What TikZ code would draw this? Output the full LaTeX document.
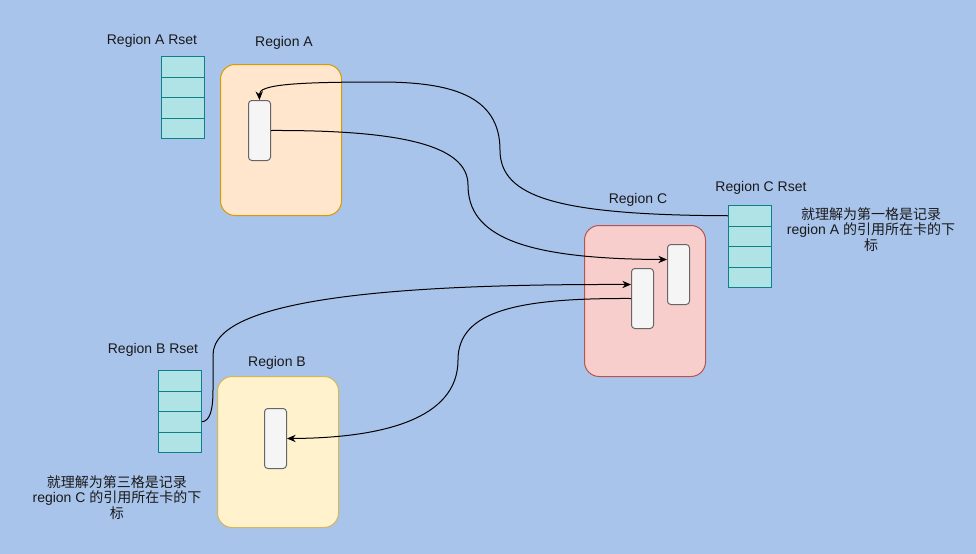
\documentclass[tikz,border=0pt]{standalone}
\usepackage{fontspec}
\setmainfont{Liberation Sans}
\newfontfamily\cjk{Noto Sans CJK SC}
\usetikzlibrary{arrows.meta}
\definecolor{bgc}{HTML}{A9C4EB}
\definecolor{rsetfill}{HTML}{B0E3E6}
\definecolor{rsetline}{HTML}{0E8088}
\definecolor{afill}{HTML}{FFE6CC}
\definecolor{aline}{HTML}{D79B00}
\definecolor{bfill}{HTML}{FFF2CC}
\definecolor{bline}{HTML}{D6B656}
\definecolor{cfill}{HTML}{F8CECC}
\definecolor{cline}{HTML}{B85450}
\definecolor{cardfill}{HTML}{F5F5F5}
\definecolor{cardline}{HTML}{666666}
\tikzset{
  cell/.style={draw=rsetline, fill=rsetfill, line width=0.75pt, minimum width=32.25pt, minimum height=15.375pt, inner sep=0pt, anchor=north west},
  regionbox/.style={line width=0.75pt, rounded corners=11pt, minimum width=90.75pt, minimum height=113.25pt, inner sep=0pt, anchor=north west},
  card/.style={draw=cardline, fill=cardfill, line width=0.75pt, rounded corners=2.5pt, minimum width=16.5pt, minimum height=45pt, inner sep=0pt, anchor=north west},
  lbl/.style={font=\fontsize{10.5}{12}\selectfont, inner sep=0pt, text=black!90},
  note/.style={font=\fontsize{10.5}{11.8}\selectfont, inner sep=0pt, align=center, text=black!90},
  conn/.style={draw=black, line width=0.75pt, -{Stealth[length=6.5pt,width=5.5pt]}},
}
\begin{document}
\begin{tikzpicture}[x=0.75pt,y=-0.75pt]
\fill[bgc] (0,0) rectangle (976,554);
\useasboundingbox (0,0) rectangle (976,554);

% Region A Rset
\node[cell] (aset1) at (161,56) {};
\node[cell] (aset2) at (161,76.5) {};
\node[cell] (aset3) at (161,97) {};
\node[cell] (aset4) at (161,117.5) {};
\node[lbl] (asetl) at (152,40.5) {Region A Rset};

% Region A
\node[regionbox, draw=aline, fill=afill] (ra) at (220,64) {};
\node[lbl] (ral) at (284,42.5) {Region A};
\node[card] (ina) at (248,100) {};

% Region C
\node[regionbox, draw=cline, fill=cfill] (rc) at (584,225) {};
\node[lbl] (rcl) at (638,199.5) {Region C};
\node[card] (cc1) at (667,244) {};
\node[card] (cc2) at (631,268) {};

% Region C Rset
\node[cell] (cset1) at (728,205) {};
\node[cell] (cset2) at (728,225.5) {};
\node[cell] (cset3) at (728,246) {};
\node[cell] (cset4) at (728,266.5) {};
\node[lbl] (csetl) at (761,187.5) {Region C Rset};
\node[note] (notea) at (871,229.5) {{\cjk 就理解为第一格是记录}\\region A {\cjk 的引用所在卡的下}\\{\cjk 标}};

% Region B Rset
\node[cell] (bset1) at (158,370) {};
\node[cell] (bset2) at (158,390.5) {};
\node[cell] (bset3) at (158,411) {};
\node[cell] (bset4) at (158,431.5) {};
\node[lbl] (bsetl) at (153,349.5) {Region B Rset};

% Region B
\node[regionbox, draw=bline, fill=bfill] (rb) at (217,376) {};
\node[lbl] (rbl) at (277,362.5) {Region B};
\node[card] (inb) at (264,408) {};
\node[note] (noteb) at (117,497.5) {{\cjk 就理解为第三格是记录}\\region C {\cjk 的引用所在卡的下}\\{\cjk 标}};

% connectors
\draw[conn] (cset1.west) .. controls (560,215) and (500,198) .. (500,150)
  .. controls (500,95) and (450,82) .. (380,82)
  .. controls (290,82) and (259,85) .. (ina.north);
\draw[conn] (ina.east) .. controls (400,130) and (468,145) .. (468,185)
  .. controls (468,235) and (520,259) .. ([yshift=11.25pt]cc1.west);
\draw[conn] (bset3.east) .. controls (210,421) and (213,410) .. (213,390)
  -- (213,355) .. controls (213,295) and (420,284) .. ([yshift=10.5pt]cc2.west);
\draw[conn] (cc2.west) .. controls (520,298) and (458,310) .. (458,360)
  .. controls (458,420) and (380,438) .. (inb.east);
\end{tikzpicture}
\end{document}
